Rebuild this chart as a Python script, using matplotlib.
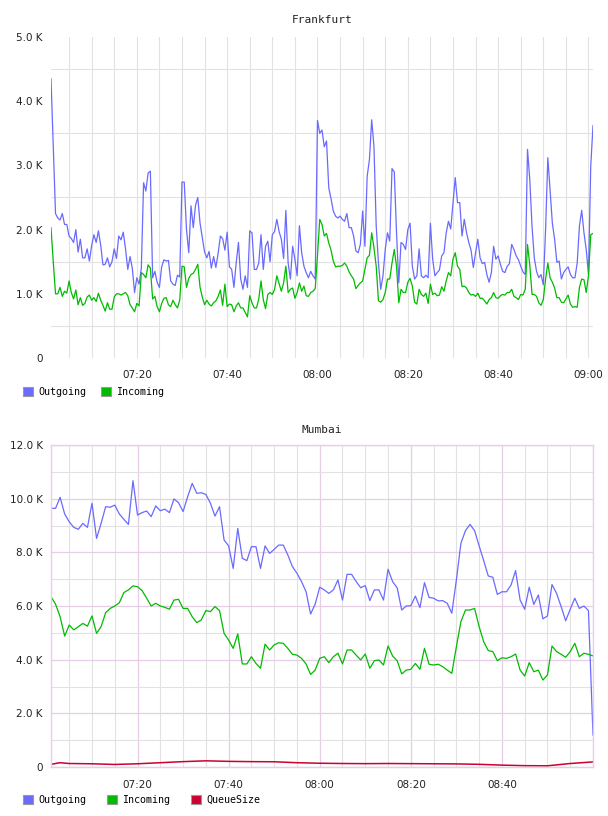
# Frankfurt / Mumbai throughput graphs (Outgoing, Incoming, QueueSize)

import pandas as pd
import matplotlib.pyplot as plt
import matplotlib.dates as mdates
import matplotlib.ticker as mticker
from matplotlib.patches import Patch

# --- data ---------------------------------------------------------------
# Frankfurt: 30 s samples starting 07:01
fra_start = '2024-01-01 07:01:00'
fra_outgoing = [
    4350, 3300, 2250, 2180, 2150, 2250, 2080, 2080, 1900, 1860,
    1800, 2000, 1650, 1850, 1560, 1560, 1700, 1510, 1750, 1920,
    1800, 1980, 1760, 1450, 1460, 1560, 1420, 1500, 1700, 1550,
    1900, 1840, 1960, 1700, 1380, 1580, 1400, 1020, 1250, 1150,
    1400, 2730, 2600, 2880, 2910, 1250, 1350, 1180, 1100, 1420,
    1530, 1510, 1520, 1200, 1150, 1130, 1290, 1260, 2740, 2740,
    2000, 1640, 2370, 2030, 2380, 2500, 2100, 1880, 1650, 1560,
    1660, 1400, 1580, 1410, 1630, 1900, 1860, 1680, 1960, 1420,
    1380, 1100, 1480, 1800, 1230, 1070, 1280, 1100, 1980, 1950,
    1380, 1380, 1480, 1920, 1380, 1740, 1820, 1500, 1920, 1970,
    2160, 1970, 1850, 1550, 2300, 1480, 1230, 1740, 1540, 1280,
    2060, 1640, 1430, 1330, 1250, 1350, 1280, 1230, 3700, 3500,
    3550, 3290, 3380, 2650, 2480, 2290, 2210, 2180, 2210, 2160,
    2130, 2250, 2030, 2030, 1900, 1670, 1640, 1770, 2290, 1740,
    2830, 3090, 3710, 3300, 2060, 1480, 1070, 1280, 1690, 1950,
    1820, 2950, 2900, 1950, 1170, 1800, 1770, 1690, 2000, 2100,
    1430, 1230, 1280, 1700, 1280, 1250, 1290, 1250, 2100, 1540,
    1280, 1330, 1370, 1590, 1640, 1950, 2130, 2010, 2420, 2810,
    2420, 2420, 1900, 2160, 1950, 1800, 1680, 1410, 1640, 1850,
    1560, 1470, 1490, 1300, 1180, 1330, 1740, 1540, 1590, 1460,
    1350, 1330, 1430, 1470, 1770, 1690, 1590, 1530, 1430, 1340,
    1300, 3250, 2780, 2050, 1560, 1350, 1250, 1300, 1140, 2000,
    3120, 2600, 2100, 1850, 1490, 1510, 1230, 1330, 1380, 1420,
    1300, 1250, 1250, 1480, 2060, 2300, 1950, 1690, 1300, 2990,
    3620,
]
fra_incoming = [
    2030, 1500, 1000, 1000, 1100, 960, 1040, 1010, 1200, 1020,
    920, 1060, 830, 940, 820, 850, 950, 980, 900, 940,
    880, 1010, 900, 820, 730, 860, 760, 760, 950, 1000,
    1000, 980, 1000, 1020, 970, 830, 780, 720, 850, 810,
    1330, 1300, 1250, 1450, 1400, 920, 960, 800, 720, 850,
    930, 940, 830, 800, 900, 830, 780, 900, 1430, 1420,
    1100, 1240, 1300, 1320, 1380, 1460, 1100, 950, 830, 900,
    840, 810, 860, 890, 960, 1060, 820, 1150, 800, 840,
    830, 720, 810, 860, 780, 780, 710, 640, 970, 860,
    780, 780, 920, 1200, 910, 770, 990, 1020, 990, 1070,
    1280, 1160, 1040, 1170, 1430, 1020, 1070, 1090, 930, 1020,
    1170, 1040, 1120, 970, 960, 1020, 1040, 1080, 1600, 2160,
    2080, 1900, 1940, 1790, 1680, 1510, 1420, 1430, 1430, 1440,
    1480, 1430, 1340, 1280, 1230, 1080, 1130, 1170, 1200, 1380,
    1560, 1600, 1950, 1720, 1430, 890, 870, 910, 1020, 1230,
    1230, 1480, 1690, 1430, 860, 1070, 1020, 1020, 1180, 1240,
    1120, 870, 840, 1070, 990, 960, 1010, 850, 1150, 990,
    1010, 970, 980, 1110, 1040, 1200, 1330, 1280, 1540, 1640,
    1430, 1380, 1110, 1120, 1090, 1020, 980, 990, 960, 1010,
    930, 930, 890, 840, 910, 940, 1020, 940, 930, 970,
    990, 980, 1020, 1020, 1070, 960, 940, 910, 990, 980,
    1070, 1770, 1450, 990, 990, 960, 860, 820, 910, 1230,
    1480, 1250, 1180, 1090, 940, 940, 870, 860, 920, 980,
    840, 790, 800, 790, 1100, 1230, 1220, 1020, 1280, 1920,
    1940,
]

# Mumbai: 1 min samples starting 07:01
bom_start = '2024-01-01 07:01:00'
bom_outgoing = [
    9640, 9640, 10050, 9430, 9140, 8930, 8860, 9080, 8930, 9830,
    8520, 9080, 9700, 9680, 9760, 9430, 9230, 9040, 10670, 9390,
    9480, 9540, 9330, 9730, 9550, 9610, 9480, 9990, 9850, 9520,
    10070, 10570, 10200, 10220, 10160, 9830, 9350, 9700, 8460, 8240,
    7400, 8890, 7780, 7690, 8210, 8210, 7400, 8240, 7960, 8110,
    8270, 8270, 7900, 7470, 7220, 6910, 6530, 5700, 6070, 6700,
    6600, 6470, 6600, 6970, 6220, 7180, 7180, 6910, 6680, 6760,
    6200, 6600, 6600, 6220, 7370, 6910, 6680, 5850, 6000, 6010,
    6370, 5940, 6870, 6320, 6290, 6190, 6200, 6100, 5730, 6970,
    8340, 8810, 9040, 8810, 8240, 7690, 7120, 7070, 6430, 6530,
    6530, 6780, 7320, 6220, 5880, 6700, 6060, 6410, 5520, 5630,
    6800, 6470, 5980, 5450, 5880, 6290, 5910, 6000, 5830, 1190,
]
bom_incoming = [
    6350, 6070, 5600, 4880, 5290, 5110, 5230, 5350, 5250, 5630,
    4980, 5230, 5750, 5910, 6000, 6120, 6500, 6600, 6750, 6720,
    6570, 6290, 6000, 6100, 6000, 5950, 5880, 6220, 6250, 5910,
    5910, 5600, 5380, 5480, 5830, 5790, 5980, 5830, 4980, 4730,
    4420, 4960, 3840, 3840, 4110, 3860, 3680, 4580, 4360, 4550,
    4630, 4610, 4420, 4200, 4170, 4050, 3840, 3450, 3610, 4050,
    4110, 3890, 4110, 4240, 3840, 4360, 4360, 4170, 3990, 4210,
    3680, 3960, 3990, 3800, 4510, 4140, 3960, 3470, 3610, 3640,
    3860, 3640, 4420, 3830, 3800, 3830, 3740, 3610, 3490, 4480,
    5420, 5850, 5850, 5910, 5230, 4670, 4340, 4300, 3960, 4070,
    4050, 4110, 4210, 3610, 3390, 3890, 3550, 3610, 3240, 3430,
    4510, 4300, 4200, 4090, 4300, 4610, 4110, 4240, 4200, 4140,
]
bom_queue_times = [
    '07:01', '07:03', '07:05', '07:10', '07:15', '07:20', '07:25', '07:30',
    '07:35', '07:40', '07:45', '07:50', '07:55', '08:00', '08:05', '08:10',
    '08:15', '08:20', '08:25', '08:30', '08:35', '08:40', '08:45', '08:50',
    '08:55', '09:00',
]
bom_queue = [
    100, 160, 130, 120, 95, 120, 160, 200,
    230, 210, 200, 195, 160, 140, 130, 125,
    130, 125, 120, 115, 100, 70, 50, 45,
    130, 190,
]

C_OUT = '#6a6aff'
C_IN = '#00bb00'
C_QUEUE = '#cc0033'
GRID = '#e2e2e2'
PINK = '#e6cfe6'

plt.rcParams['font.family'] = 'DejaVu Sans'

fra_t = pd.date_range(fra_start, periods=len(fra_outgoing), freq='30s')
bom_t = pd.date_range(bom_start, periods=len(bom_outgoing), freq='1min')
bom_qt = pd.to_datetime(['2024-01-01 ' + s for s in bom_queue_times])


def k_fmt(v, pos):
    return '0' if v == 0 else f'{v / 1000:.1f} K'


def style_axis(ax, ymax, ystep, pink):
    ax.set_ylim(0, ymax)
    ax.yaxis.set_major_locator(mticker.MultipleLocator(ystep))
    ax.yaxis.set_major_formatter(mticker.FuncFormatter(k_fmt))
    ax.xaxis.set_major_formatter(mdates.DateFormatter('%H:%M'))
    ax.xaxis.set_minor_locator(mdates.MinuteLocator(byminute=range(0, 60, 5)))
    ax.tick_params(which='both', length=0, labelsize=7.5, colors='#222222')
    ax.tick_params(axis='y', pad=6)
    ax.tick_params(axis='x', pad=9)
    ax.set_axisbelow(True)
    for s in ax.spines.values():
        s.set_visible(pink)
        s.set_color(PINK)
        s.set_linewidth(1.0)


fig = plt.figure(figsize=(6.08, 8.16), dpi=100)

# --- Frankfurt ----------------------------------------------------------
ax1 = fig.add_axes([51 / 608, 1 - 358 / 816, 542 / 608, 321 / 816])
ax1.plot(fra_t, fra_outgoing, color=C_OUT, lw=0.9)
ax1.plot(fra_t, fra_incoming, color=C_IN, lw=0.9)
ax1.set_xlim(fra_t[0], fra_t[-1])
style_axis(ax1, 5000, 1000, pink=False)
ax1.set_xticks(pd.date_range('2024-01-01 07:20', '2024-01-01 09:00', freq='20min'))
ax1.yaxis.set_minor_locator(mticker.FixedLocator([500, 1500, 2500, 3500, 4500]))
ax1.grid(True, which='minor', color=GRID, lw=0.8)
ax1.grid(True, which='major', axis='x', color=GRID, lw=0.8)
fig.text(322 / 608, 1 - 20 / 816, 'Frankfurt', ha='center', va='center',
         family='DejaVu Sans Mono', fontsize=8, color='#222222')

fig.legend(handles=[Patch(facecolor=C_OUT, edgecolor='#999999', lw=0.8, label='Outgoing'),
                    Patch(facecolor=C_IN, edgecolor='#999999', lw=0.8, label='Incoming')],
           loc='center left', bbox_to_anchor=(23 / 608, 1 - 392 / 816), ncol=2,
           frameon=False, prop={'family': 'DejaVu Sans Mono', 'size': 7.2},
           handlelength=1.0, handleheight=1.0, handletextpad=0.5,
           columnspacing=1.5, borderpad=0, borderaxespad=0)

# --- Mumbai -------------------------------------------------------------
ax2 = fig.add_axes([51 / 608, 1 - 767 / 816, 542 / 608, 322 / 816])
ax2.plot(bom_t, bom_outgoing, color=C_OUT, lw=0.9)
ax2.plot(bom_t, bom_incoming, color=C_IN, lw=0.9)
ax2.plot(bom_qt, bom_queue, color=C_QUEUE, lw=1.1)
ax2.set_xlim(bom_t[0], bom_t[-1])
style_axis(ax2, 12000, 2000, pink=True)
ax2.set_xticks(pd.date_range('2024-01-01 07:20', '2024-01-01 08:40', freq='20min'))
ax2.yaxis.set_minor_locator(mticker.MultipleLocator(1000))
ax2.grid(True, which='minor', color=GRID, lw=0.8)
ax2.grid(True, which='major', color=PINK, lw=0.9)
fig.text(322 / 608, 1 - 430 / 816, 'Mumbai', ha='center', va='center',
         family='DejaVu Sans Mono', fontsize=8, color='#222222')

fig.legend(handles=[Patch(facecolor=C_OUT, edgecolor='#999999', lw=0.8, label='Outgoing'),
                    Patch(facecolor=C_IN, edgecolor='#999999', lw=0.8, label='Incoming'),
                    Patch(facecolor=C_QUEUE, edgecolor='#999999', lw=0.8, label='QueueSize')],
           loc='center left', bbox_to_anchor=(23 / 608, 1 - 800 / 816), ncol=3,
           frameon=False, prop={'family': 'DejaVu Sans Mono', 'size': 7.2},
           handlelength=1.0, handleheight=1.0, handletextpad=0.5,
           columnspacing=2.1, borderpad=0, borderaxespad=0)

fig.savefig('out.png', dpi=100)
